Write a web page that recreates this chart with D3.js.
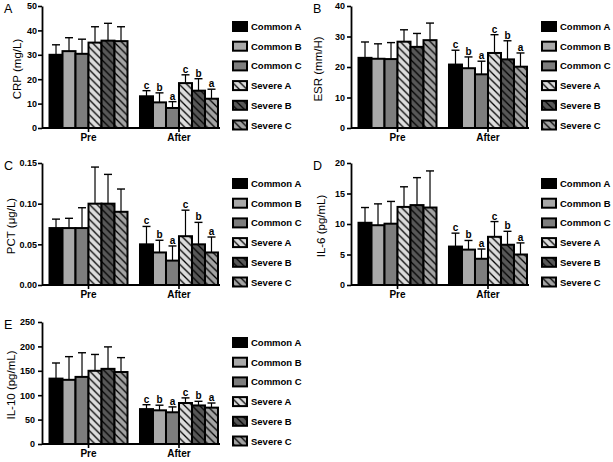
<!DOCTYPE html>
<html><head><meta charset="utf-8">
<script src="https://cdn.jsdelivr.net/npm/d3@7"></script>
<style>
html,body{margin:0;padding:0;background:#fff;}
svg{display:block;font-family:"Liberation Sans",Arial,sans-serif;}
</style></head>
<body>
<svg id="chart" width="613" height="462"></svg>
<script>
// ---------- data ----------
const categories = ["Pre", "After"];
const groups = ["Common A", "Common B", "Common C", "Severe A", "Severe B", "Severe C"];
const sigLetters = ["c", "b", "a", "c", "b", "a"]; // shown on "After" only

const crpMean = [[30, 31.5, 30.4, 35, 35.8, 35.6], [13, 10.5, 8.2, 18.4, 15.3, 12]];
const crpTop  = [[34.1, 37, 36.4, 41.5, 42.9, 41.5], [15.3, 14.4, 10.8, 21.8, 20.2, 15.9]];

const esrMean = [[23, 22.7, 22.6, 28.3, 26.6, 28.8], [20.8, 19.6, 17.6, 24.6, 22.5, 20.1]];
const esrTop  = [[28.2, 27.6, 28, 32.2, 31, 34.4], [25.5, 23.3, 21.9, 30.6, 28.6, 24.6]];

const pctMean = [[0.07, 0.07, 0.07, 0.10, 0.10, 0.09], [0.05, 0.04, 0.03, 0.06, 0.05, 0.04]];
const pctTop  = [[0.081, 0.082, 0.095, 0.145, 0.136, 0.118], [0.072, 0.055, 0.048, 0.092, 0.077, 0.059]];

const il6Mean = [[10.2, 9.8, 10.05, 12.8, 13.1, 12.7], [6.3, 5.8, 4.3, 7.9, 6.6, 5.0]];
const il6Top  = [[12.7, 13.3, 13.7, 16.1, 17.6, 18.7], [8.5, 7.3, 5.9, 10.4, 8.8, 6.9]];

const il10Mean = [[134, 131.5, 137.5, 150, 154, 147.5], [71.5, 69, 65, 84, 79, 74.5]];
const il10Top  = [[166, 179, 187, 183.5, 199, 177], [80.5, 79.5, 76, 94.5, 87.5, 84]];

const panelLetters = ["A", "B", "C", "D", "E"];
const yTitles = ["CRP (mg/L)", "ESR (mm/H)", "PCT (μg/L)", "IL-6 (pg/mL)", "IL-10 (pg/mL)"];
const yTicks = [
  [0, 10, 20, 30, 40, 50],
  [0, 10, 20, 30, 40],
  [0, 0.05, 0.10, 0.15],
  [0, 5, 10, 15, 20],
  [0, 50, 100, 150, 200, 250]
];
const yTickFormats = [",d", ",d", ".2f", ",d", ",d"];
const means = [crpMean, esrMean, pctMean, il6Mean, il10Mean];
const tops = [crpTop, esrTop, pctTop, il6Top, il10Top];

// ---------- styles / layout ----------
const fills = ["#000000", "#a9a9a9", "#7d7d7d", "#dcdcdc", "#575757", "#a3a3a3"];
const hatched = [false, false, false, true, true, true];
const offsets = [[0, 0], [309, 0], [0, 157], [309, 157], [0, 316]];
const titleX = [21, 12.5, 14.5, 16, 15];
const tickPad = [1, 2, 1, 2, 3];

const svg = d3.select("#chart");
const defs = svg.append("defs");
const T = 7.5;
fills.forEach((c, i) => {
  if (!hatched[i]) return;
  const p = defs.append("pattern").attr("id", "hatch" + i)
    .attr("patternUnits", "userSpaceOnUse").attr("width", T).attr("height", T);
  p.append("rect").attr("width", T).attr("height", T).attr("fill", c);
  p.append("path")
    .attr("d", `M0,0L${T},${T}M-1,${T - 1}L1,${T + 1}M${T - 1},-1L${T + 1},1`)
    .attr("stroke", "#000").attr("stroke-width", 1.3);
});
const fillOf = i => hatched[i] ? `url(#hatch${i})` : fills[i];

const axX = 42, yTop = 6, yBot = 128;

function drawPanel(k) {
  const g = svg.append("g").attr("transform", `translate(${offsets[k][0]},${offsets[k][1]})`);
  const ticks = yTicks[k];
  const y = d3.scaleLinear().domain([0, ticks[ticks.length - 1]]).range([yBot, yTop]);
  const x = d3.scaleBand().domain(categories).range([axX, 225.5])
    .paddingInner(0.138).paddingOuter(0.083);
  const xi = d3.scaleBand().domain(groups).range([0, x.bandwidth()]);

  // bars
  categories.forEach((cat, ci) => {
    const cg = g.append("g").attr("transform", `translate(${x(cat)},0)`);
    groups.forEach((grp, gi) => {
      const v = means[k][ci][gi];
      const t = tops[k][ci][gi];
      const cx = xi(grp) + xi.bandwidth() / 2;
      cg.append("line").attr("x1", cx).attr("x2", cx)
        .attr("y1", y(v)).attr("y2", y(t)).attr("stroke", "#000").attr("stroke-width", 1.2);
      cg.append("line").attr("x1", cx - 4).attr("x2", cx + 4)
        .attr("y1", y(t)).attr("y2", y(t)).attr("stroke", "#000").attr("stroke-width", 1.4);
      if (ci === 1) {
        cg.append("text").attr("x", cx).attr("y", y(t) - 2)
          .attr("text-anchor", "middle").attr("font-size", 10).attr("font-weight", "bold")
          .text(sigLetters[gi]);
      }
    });
    groups.forEach((grp, gi) => {
      const v = means[k][ci][gi];
      cg.append("rect").attr("x", xi(grp)).attr("width", xi.bandwidth())
        .attr("y", y(v)).attr("height", yBot - y(v))
        .attr("fill", fillOf(gi)).attr("stroke", "#000").attr("stroke-width", 2);
    });
  });

  // y axis
  const ya = g.append("g").attr("transform", `translate(${axX},0)`)
    .call(d3.axisLeft(y).tickValues(ticks).tickSize(4).tickSizeOuter(0)
      .tickFormat(d3.format(yTickFormats[k])).tickPadding(tickPad[k]));
  ya.select(".domain").attr("stroke-width", 1.8);
  ya.selectAll(".tick line").attr("stroke-width", 1.6);
  ya.selectAll(".tick text").attr("font-size", 9).attr("font-weight", "bold")
    .attr("font-family", "Liberation Sans, Arial, sans-serif").attr("fill", "#000");

  // x axis
  const xa = g.append("g").attr("transform", `translate(0,${yBot})`)
    .call(d3.axisBottom(x).tickSize(4).tickSizeOuter(0).tickPadding(2));
  xa.select(".domain").attr("d", `M${axX},0H220`).attr("stroke-width", 1.8);
  xa.selectAll(".tick line").attr("stroke-width", 1.6);
  xa.selectAll(".tick text").attr("font-size", 10).attr("font-weight", "bold")
    .attr("font-family", "Liberation Sans, Arial, sans-serif").attr("fill", "#000");

  // titles
  g.append("text").attr("x", 4).attr("y", 13).attr("font-size", 12.5).text(panelLetters[k]);
  g.append("text").attr("transform", `translate(${titleX[k]},${(yTop + yBot) / 2 + 2}) rotate(-90)`)
    .attr("text-anchor", "middle").attr("font-size", 11.5).text(yTitles[k]);

  // legend
  groups.forEach((grp, gi) => {
    const ly = 26.5 + gi * 19.7;
    g.append("rect").attr("x", 233).attr("y", ly - 4.5).attr("width", 14).attr("height", 9)
      .attr("fill", fillOf(gi)).attr("stroke", "#000").attr("stroke-width", 2);
    g.append("text").attr("x", 251).attr("y", ly + 3.5).attr("font-size", 9.5)
      .attr("font-weight", "bold").text(grp);
  });
}

for (let k = 0; k < 5; k++) drawPanel(k);
</script>
</body></html>
